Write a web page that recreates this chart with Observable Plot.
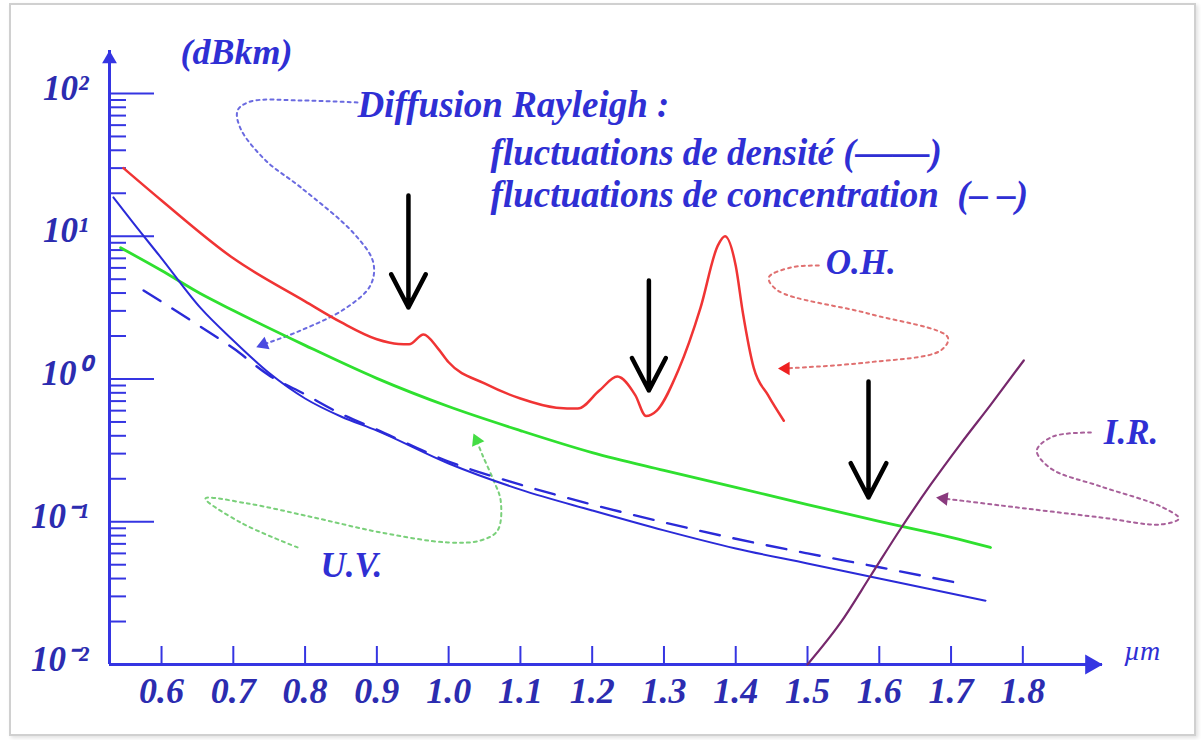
<!DOCTYPE html>
<html><head><meta charset="utf-8">
<script src="https://cdn.jsdelivr.net/npm/d3@7"></script>
<script src="https://cdn.jsdelivr.net/npm/@observablehq/plot@0.6"></script>
<style>
body{margin:0;background:#fff;}
#wrap{position:relative;width:1201px;height:740px;overflow:hidden;background:#fff;}
#border{position:absolute;left:9px;top:3px;width:1187px;height:733px;border:2px solid #d0d0d0;box-sizing:border-box;pointer-events:none;box-shadow:2px 2px 4px rgba(0,0,0,0.12);}
</style></head><body><div id="wrap"><div id="chart"></div><div id="border"></div></div>
<script>
// ---- tick labels ----
const xTicks = [0.6,0.7,0.8,0.9,1.0,1.1,1.2,1.3,1.4,1.5,1.6,1.7,1.8];
const xTickLabels = ["0.6","0.7","0.8","0.9","1.0","1.1","1.2","1.3","1.4","1.5","1.6","1.7","1.8"];
const yDecades = [0.01,0.1,1,10,100];
const yTickLabels = ["10⁻²","10⁻¹","10⁰","10¹","10²"];
const yMinor = [0.01,0.1,1,10].flatMap(d => [2,3,4,5,6,7,8,9].map(m => m*d));

// ---- series (wavelength in µm, attenuation in dB/km) ----
const totalLambda = [0.547,0.60,0.70,0.80,0.85,0.90,0.93,0.945,0.965,0.985,1.00,1.05,1.10,1.15,1.18,1.21,1.235,1.26,1.275,1.29,1.32,1.351,1.375,1.385,1.40,1.41,1.425,1.445,1.467];
const totalLoss   = [30,17.8,7.0,3.5,2.5,1.9,1.76,1.75,2.05,1.64,1.31,0.93,0.73,0.63,0.62,0.83,1.04,0.77,0.55,0.6,1.15,3.16,8.6,10,6.2,2.9,1.2,0.77,0.51];

const uvLambda = [0.543,0.60,0.654,0.70,0.80,0.90,1.00,1.10,1.20,1.30,1.40,1.50,1.60,1.70,1.755];
const uvLoss   = [8.3,5.75,3.97,3.02,1.72,1.01,0.641,0.435,0.305,0.229,0.174,0.132,0.1005,0.0777,0.066];

const densLambda = [0.533,0.56,0.60,0.654,0.70,0.75,0.80,0.85,0.90,1.00,1.10,1.20,1.30,1.40,1.50,1.60,1.70,1.748];
const densLoss   = [18.7,12.5,7.0,3.16,1.86,1.1,0.73,0.546,0.435,0.256,0.168,0.12,0.087,0.065,0.051,0.040,0.0314,0.028];

const concLambda = [0.575,0.654,0.70,0.75,0.80,0.85,0.90,1.00,1.10,1.20,1.30,1.40,1.50,1.60,1.707];
const concLoss   = [4.17,2.33,1.64,1.06,0.78,0.570,0.442,0.264,0.182,0.132,0.099,0.076,0.060,0.048,0.0375];

const irLambda = [1.50,1.5463,1.5882,1.630,1.6718,1.7136,1.7554,1.8014];
const irLoss   = [0.01,0.0197,0.042,0.0897,0.1824,0.353,0.662,1.35];

// black arrows: [lambda, from, to]
const peakArrows = [[0.944,19.3,3.17],[1.279,4.9,0.83],[1.585,0.96,0.148]];

// annotation leader paths: [lambda, log10(dB/km)]
const rayleighPath = [[.873,1.937],[.794,1.951],[.724,1.944],[.706,1.881],[.710,1.755],[.745,1.531],[.794,1.342],[.868,1.019],[.895,.816],[.891,.655],[.856,.494],[.794,.340],[.742,.242]];
const ohPath = [[1.5157,.795],[1.4767,.781],[1.446,.711],[1.4585,.620],[1.584,.459],[1.6955,.291],[1.6857,.200],[1.584,.116],[1.4697,.074]];
const irPath = [[1.8948,-.375],[1.8418,-.403],[1.8195,-.501],[1.839,-.627],[1.9087,-.753],[1.9923,-.893],[2.0174,-.977],[1.9923,-1.019],[1.9087,-.970],[1.7693,-.886],[1.6899,-.837]];
const uvPath = [[.7895,-1.180],[.7101,-1.005],[.6613,-.837],[.7199,-.872],[.8118,-.970],[.9052,-1.075],[.9986,-1.145],[1.0446,-1.131],[1.0683,-1.061],[1.0725,-.851],[1.0627,-.711],[1.0474,-.536],[1.039,-.431]];

const X_MIN = 0.5275, X_MAX = 1.911, Y_MIN = 0.01, Y_MAX = 200;

const zip = (xs, ys) => xs.map((x, i) => ({x, y: ys[i]}));
const pth = p => p.map(([x, l]) => ({x, y: 10 ** l}));
const last = p => [pth(p)[p.length - 1]];

const AX = "#3535e2", TXT = "#2f2fd4", LBL = "#2c2cb0";
const FONT = "Liberation Serif, Times New Roman, serif";
const textStyle = {fontFamily: FONT, fontStyle: "italic", fontWeight: "bold", fill: TXT};

const chart = Plot.plot({
  width: 1201, height: 740,
  marginLeft: 109, marginRight: 99, marginTop: 50, marginBottom: 76,
  x: {type: "linear", domain: [X_MIN, X_MAX], axis: null},
  y: {type: "log", domain: [Y_MIN, Y_MAX], axis: null},
  style: {background: "transparent", overflow: "visible"},
  marks: [
    // axes
    Plot.tickY(yMinor, {y: d => d, stroke: AX, strokeWidth: 2, insetRight: 976}),
    Plot.tickY(yDecades, {y: d => d, stroke: AX, strokeWidth: 2, insetRight: 948}),
    Plot.tickX(xTicks, {x: d => d, stroke: AX, strokeWidth: 2, insetTop: 596}),
    Plot.ruleX([X_MIN], {stroke: AX, strokeWidth: 3}),
    Plot.ruleY([Y_MIN], {stroke: AX, strokeWidth: 3}),
    Plot.dot([0], {frameAnchor: "top-left", symbol: "triangle", r: 5.5, fill: AX, stroke: "none", dy: 8.5}),
    Plot.dot([0], {frameAnchor: "bottom-right", symbol: "triangle", r: 7.5, fill: AX, stroke: "none", rotate: 90, dx: -11.5}),
    Plot.text(xTicks, {x: d => d, frameAnchor: "bottom", dy: 38, text: (d, i) => xTickLabels[i], fontSize: 36, ...textStyle, fill: LBL}),
    Plot.text(yDecades, {y: d => d, frameAnchor: "left", dx: -21, dy: -5, textAnchor: "end", text: (d, i) => yTickLabels[i], fontSize: 35, ...textStyle, fill: LBL}),
    Plot.text([0], {x: 0.6265, y: 162, text: ["(dBkm)"], textAnchor: "start", lineAnchor: "bottom", fontSize: 36, ...textStyle}),
    Plot.text([0], {x: 1.9408, y: 0.0107, text: ["µm"], textAnchor: "start", lineAnchor: "bottom", fontSize: 28, fontFamily: FONT, fontStyle: "italic", fill: TXT}),

    // annotation leaders
    Plot.line(pth(rayleighPath), {x: "x", y: "y", curve: "catmull-rom", stroke: "#6a6ae0", strokeWidth: 2, strokeDasharray: "3,4"}),
    Plot.dot(last(rayleighPath), {x: "x", y: "y", symbol: "triangle", r: 5, fill: "#4a4ae0", stroke: "none", rotate: 248}),
    Plot.line(pth(ohPath), {x: "x", y: "y", curve: "catmull-rom", stroke: "#e07070", strokeWidth: 2, strokeDasharray: "3,4"}),
    Plot.dot(last(ohPath), {x: "x", y: "y", symbol: "triangle", r: 5, fill: "#ee2020", stroke: "none", rotate: 270}),
    Plot.line(pth(irPath), {x: "x", y: "y", curve: "catmull-rom", stroke: "#a8609a", strokeWidth: 2, strokeDasharray: "3,4"}),
    Plot.dot(last(irPath), {x: "x", y: "y", symbol: "triangle", r: 5, fill: "#8a3a7e", stroke: "none", rotate: 277}),
    Plot.line(pth(uvPath), {x: "x", y: "y", curve: "catmull-rom", stroke: "#7ad07a", strokeWidth: 2, strokeDasharray: "3,4"}),
    Plot.dot(last(uvPath), {x: "x", y: "y", symbol: "triangle", r: 5, fill: "#44dd44", stroke: "none", rotate: 336}),

    // curves
    Plot.line(zip(uvLambda, uvLoss), {x: "x", y: "y", curve: "monotone-x", stroke: "#2fe02f", strokeWidth: 2.8}),
    Plot.line(zip(concLambda, concLoss), {x: "x", y: "y", curve: "monotone-x", stroke: "#2a2ad8", strokeWidth: 2.4, strokeDasharray: "20,14"}),
    Plot.line(zip(densLambda, densLoss), {x: "x", y: "y", curve: "monotone-x", stroke: "#2a2ad8", strokeWidth: 2}),
    Plot.line(zip(irLambda, irLoss), {x: "x", y: "y", curve: "monotone-x", stroke: "#76286c", strokeWidth: 2.2}),
    Plot.line(zip(totalLambda, totalLoss), {x: "x", y: "y", curve: "monotone-x", stroke: "#f03434", strokeWidth: 2.5}),

    // black arrows
    Plot.arrow(peakArrows, {x: d => d[0], y1: d => d[1], y2: d => d[2], stroke: "black", strokeWidth: 4.5, headLength: 24, headAngle: 55}),

    // labels
    Plot.text([0], {x: 0.8732, y: 67.9, text: ["Diffusion Rayleigh :"], textAnchor: "start", lineAnchor: "bottom", fontSize: 37, ...textStyle}),
    Plot.text([0], {x: 1.0585, y: 31.3, text: ["fluctuations de densité (——)"], textAnchor: "start", lineAnchor: "bottom", fontSize: 37, ...textStyle}),
    Plot.text([0], {x: 1.0585, y: 16.1, text: ["fluctuations de concentration  (– –)"], textAnchor: "start", lineAnchor: "bottom", fontSize: 37, ...textStyle}),
    Plot.text([0], {x: 1.5254, y: 5.48, text: ["O.H."], textAnchor: "start", lineAnchor: "bottom", fontSize: 35, ...textStyle}),
    Plot.text([0], {x: 1.9129, y: 0.353, text: ["I.R."], textAnchor: "start", lineAnchor: "bottom", fontSize: 35, ...textStyle}),
    Plot.text([0], {x: 0.8216, y: 0.0407, text: ["U.V."], textAnchor: "start", lineAnchor: "bottom", fontSize: 35, ...textStyle})
  ]
});
document.getElementById("chart").appendChild(chart);
</script></body></html>
